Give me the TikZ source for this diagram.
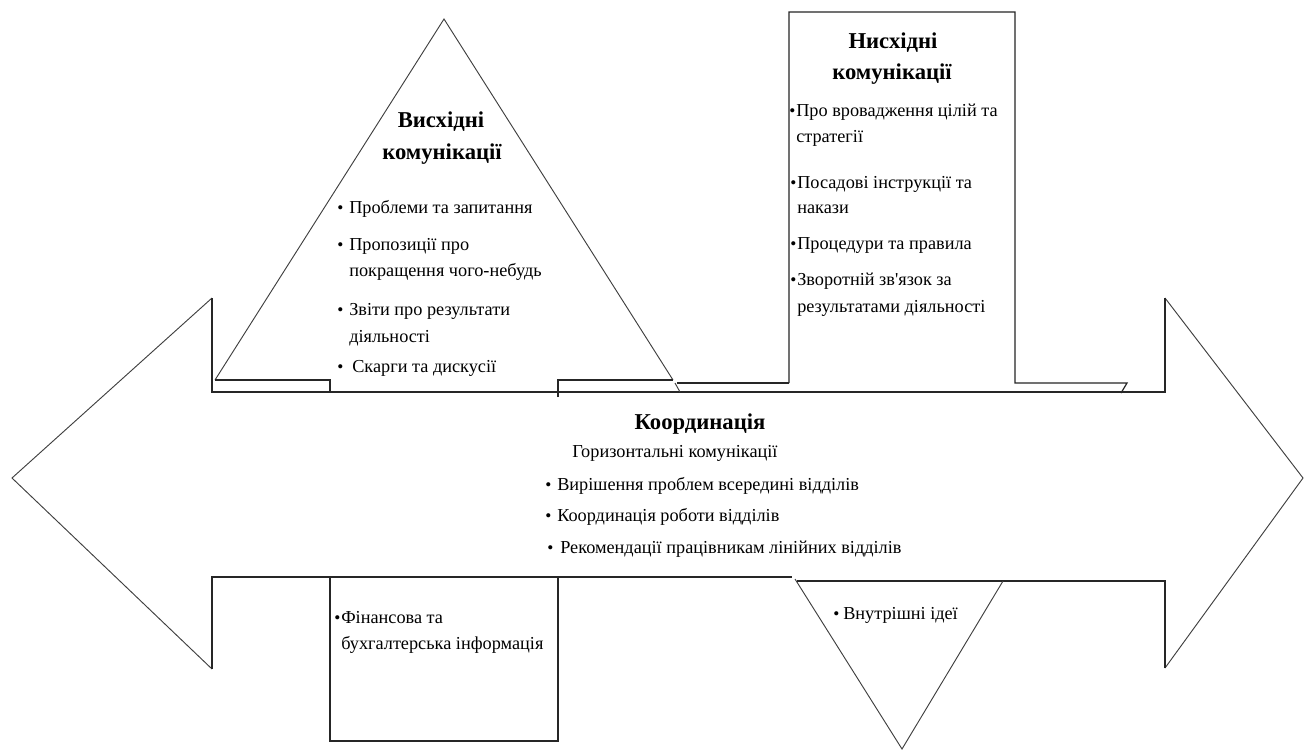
\documentclass[tikz,border=0pt]{standalone}
\usepackage{fontspec}
\setmainfont{Liberation Serif}[Ligatures=TeXOff]
\begin{document}
\begin{tikzpicture}[x=0.75pt,y=-0.75pt,
  shp/.style={draw=black!85, line width=0.9pt, line join=miter},
  thn/.style={draw=black!75, line width=0.7pt},
  ttl/.style={anchor=base, inner sep=0pt, font=\bfseries\fontsize{17}{20}\selectfont},
  txt/.style={anchor=base west, inner sep=0pt, font=\fontsize{13.7}{17}\selectfont},
  bul/.style={anchor=base west, inner sep=0pt, font=\fontsize{13}{14}\selectfont}]
\useasboundingbox (0,0) rectangle (1304,751);
\fill[white] (0,0) rectangle (1304,751);
% double arrow
\draw[thn] (212,298) -- (12,478) -- (212,669);
\draw[thn] (1165,298) -- (1303,478) -- (1165,668);
\draw[shp] (212,298) -- (212,392) -- (1165,392) -- (1165,298);
\draw[shp] (212,669) -- (212,577) -- (792,577);
\draw[shp] (1165,668) -- (1165,581) -- (797,581);
% upward triangle
\draw[thn] (215,380) -- (444,19) -- (673,380);
\draw[shp] (215,380) -- (330,380) -- (330,392);
\draw[shp] (558,397) -- (558,380) -- (673,380);
\draw[thn] (675,383) -- (680,392);
\draw[shp] (677,383) -- (789,383);
% downward box
\draw[shp] (789,383) -- (789,12) -- (1015,12) -- (1015,383) -- (1127,383) -- (1121,393);
% finance box
\draw[shp] (330,577) -- (330,741) -- (558,741) -- (558,577);
% inverted triangle
\draw[thn] (795,579) -- (902,749) -- (1003,581);

% texts: upward
\node[ttl] (t1a) at (441,127) {Висхідні};
\node[ttl] (t1b) at (442,159) {комунікації};
\node[bul] (b11) at (337,213) {•};
\node[txt] (u1) at (349,213) {Проблеми та запитання};
\node[bul] (b12) at (337,250) {•};
\node[txt] (u2a) at (349,250) {Пропозиції про};
\node[txt] (u2b) at (349,276) {покращення чого-небудь};
\node[bul] (b13) at (337,315) {•};
\node[txt] (u3a) at (349,315) {Звіти про результати};
\node[txt] (u3b) at (349,342) {діяльності};
\node[bul] (b14) at (337,372) {•};
\node[txt] (u4) at (352,372) {Скарги та дискусії};

% texts: downward
\node[ttl] (t2a) at (893,48) {Нисхідні};
\node[ttl] (t2b) at (892,79) {комунікації};
\node[bul] (b21) at (789,116) {•};
\node[txt] (d1a) at (796,116) {Про вровадження цілій та};
\node[txt] (d1b) at (796,142) {стратегії};
\node[bul] (b22) at (790,188) {•};
\node[txt] (d2a) at (797,188) {Посадові інструкції та};
\node[txt] (d2b) at (797,213) {накази};
\node[bul] (b23) at (790,249) {•};
\node[txt] (d3) at (797,249) {Процедури та правила};
\node[bul] (b24) at (790,285) {•};
\node[txt] (d4a) at (797,285) {Зворотній зв'язок за};
\node[txt] (d4b) at (797,312) {результатами діяльності};

% texts: horizontal
\node[ttl] (t3) at (700,429) {Координація};
\node[txt] (h0) at (572,457) {Горизонтальні комунікації};
\node[bul] (b31) at (545,490) {•};
\node[txt] (h1) at (557,490) {Вирішення проблем всередині відділів};
\node[bul] (b32) at (545,521) {•};
\node[txt] (h2) at (557,521) {Координація роботи відділів};
\node[bul] (b33) at (547,553) {•};
\node[txt] (h3) at (560,553) {Рекомендації працівникам лінійних відділів};

% finance
\node[bul] (b41) at (334,623) {•};
\node[txt] (f1a) at (341,623) {Фінансова та};
\node[txt] (f1b) at (341,649) {бухгалтерська інформація};

% ideas
\node[bul] (b51) at (833,619) {•};
\node[txt] (i1) at (843,619) {Внутрішні ідеї};
\end{tikzpicture}
\end{document}
